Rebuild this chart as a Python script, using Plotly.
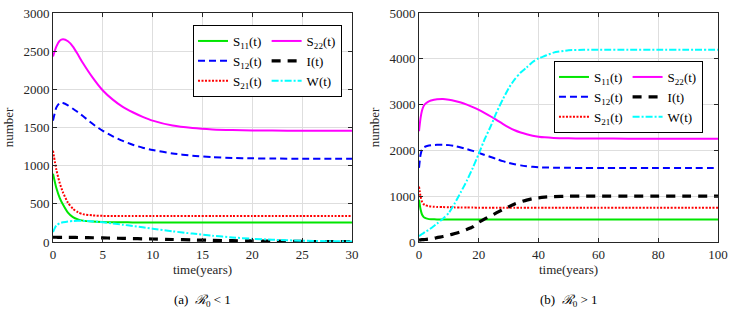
import plotly.graph_objects as go
from plotly.subplots import make_subplots

# ---------------- data: panel (a) R0 < 1 ----------------
t_a = [0, 0.33, 0.67, 1, 1.5, 2, 2.5, 3, 4, 5, 6, 7, 8, 9, 10, 12, 14, 16, 18, 20, 22, 25, 28, 30]
S11_a = [895, 710, 578, 490, 385, 325, 296, 280, 268, 262, 259, 258, 257, 257, 257, 257, 257, 257, 257, 257, 257, 257, 257, 257]
S12_a = [1590, 1760, 1822, 1820, 1790, 1745, 1700, 1650, 1545, 1455, 1385, 1325, 1275, 1235, 1205, 1160, 1130, 1112, 1102, 1096, 1093, 1091, 1090, 1090]
S21_a = [1195, 950, 775, 650, 515, 435, 390, 365, 348, 342, 340, 340, 340, 340, 340, 340, 340, 340, 340, 340, 340, 340, 340, 340]
S22_a = [2430, 2560, 2635, 2655, 2630, 2560, 2455, 2345, 2150, 1985, 1865, 1770, 1700, 1640, 1590, 1525, 1493, 1475, 1466, 1462, 1460, 1458, 1457, 1457]
I_a = [62, 62, 61, 61, 60, 60, 59, 58, 56, 54, 51, 48, 45, 42, 39, 33, 27, 22, 17, 14, 11, 7, 5, 4]
W_a = [130, 215, 245, 258, 270, 275, 277, 277, 270, 258, 243, 226, 210, 192, 174, 140, 110, 82, 60, 42, 30, 17, 10, 8]

# ---------------- data: panel (b) R0 > 1 ----------------
t_b = [0, 0.5, 1, 1.5, 2, 3, 4, 5, 6, 8, 10, 12, 14, 16, 18, 20, 22, 24, 26, 28, 30, 32, 34, 36, 38, 40, 42, 45, 50, 55, 60, 70, 80, 90, 100]
S11_b = [925, 720, 600, 550, 525, 505, 498, 495, 493, 492, 491, 490, 490, 490, 490, 490, 490, 490, 490, 490, 490, 490, 490, 490, 490, 490, 490, 490, 490, 490, 490, 490, 490, 490, 490]
S12_b = [1620, 1900, 2020, 2060, 2080, 2100, 2110, 2118, 2122, 2122, 2115, 2095, 2065, 2030, 1990, 1945, 1900, 1855, 1810, 1765, 1728, 1697, 1673, 1655, 1642, 1633, 1627, 1622, 1619, 1618, 1618, 1618, 1618, 1618, 1618]
S21_b = [1210, 1000, 880, 830, 805, 785, 775, 770, 766, 762, 758, 756, 754, 752, 751, 750, 750, 749, 749, 748, 748, 748, 748, 748, 748, 748, 748, 748, 748, 748, 748, 748, 748, 748, 748]
S22_b = [2420, 2700, 2870, 2960, 3010, 3060, 3090, 3105, 3115, 3122, 3105, 3080, 3045, 3000, 2945, 2885, 2815, 2740, 2660, 2580, 2505, 2440, 2390, 2352, 2322, 2300, 2285, 2272, 2263, 2260, 2258, 2257, 2257, 2257, 2257]
I_b = [40, 47, 50, 52, 55, 62, 70, 80, 95, 120, 150, 185, 225, 275, 330, 430, 505, 570, 640, 710, 770, 830, 875, 915, 945, 965, 980, 992, 1000, 1000, 1000, 1000, 1000, 1000, 1000]
W_b = [130, 150, 175, 195, 220, 255, 300, 350, 400, 510, 640, 850, 1090, 1340, 1620, 1930, 2250, 2530, 2840, 3110, 3360, 3550, 3700, 3810, 3930, 4010, 4060, 4135, 4185, 4197, 4200, 4200, 4200, 4200, 4200]

names = ["S<sub>11</sub>(t)", "S<sub>12</sub>(t)", "S<sub>21</sub>(t)",
         "S<sub>22</sub>(t)", "I(t)", "W(t)"]
styles = [
    dict(color="#00e600", width=2, dash="solid"),
    dict(color="#0000ff", width=2, dash="7px,4px"),
    dict(color="#ff0000", width=2, dash="2px,1.5px"),
    dict(color="#ff00ff", width=2, dash="solid"),
    dict(color="#000000", width=3.2, dash="9px,7px"),
    dict(color="#00ffff", width=2, dash="7px,2px,2px,2px"),
]
groups = ["c1", "c1", "c1", "c2", "c2", "c2"]

FONT = "Liberation Serif"
TXT = "#262626"

fig = make_subplots(rows=1, cols=2, horizontal_spacing=0.1008)

panels = [
    (1, t_a, [S11_a, S12_a, S21_a, S22_a, I_a, W_a], "legend"),
    (2, t_b, [S11_b, S12_b, S21_b, S22_b, I_b, W_b], "legend2"),
]
for col, t, series, leg in panels:
    for name, ys, st, g in zip(names, series, styles, groups):
        fig.add_trace(go.Scatter(
            x=t, y=ys, mode="lines", name=name, legend=leg,
            legendgroup=g + leg,
            line=dict(color=st["color"], width=st["width"], dash=st["dash"],
                      shape="spline", smoothing=0.6),
            hoverinfo="skip",
        ), row=1, col=col)

axis_common = dict(
    showline=True, linecolor=TXT, linewidth=1, mirror="ticks",
    ticks="inside", ticklen=4, tickcolor=TXT,
    showgrid=True, gridcolor="#dedede", gridwidth=1,
    zeroline=False, automargin=False,
    tickfont=dict(family=FONT, size=13, color=TXT),
    title_font=dict(family=FONT, size=13, color=TXT),
)

fig.update_xaxes(**axis_common)
fig.update_yaxes(**axis_common)

fig.update_xaxes(range=[0, 30], tick0=0, dtick=5, title_text="time(years)", title_standoff=2, row=1, col=1)
fig.update_xaxes(range=[0, 100], tick0=0, dtick=20, title_text="time(years)", title_standoff=2, row=1, col=2)
fig.update_yaxes(range=[0, 3000], tick0=0, dtick=500, title_text="number", title_standoff=6, row=1, col=1)
fig.update_yaxes(range=[0, 5000], tick0=0, dtick=1000, title_text="number", title_standoff=6, row=1, col=2)

legend_common = dict(
    orientation="h", traceorder="grouped",
    bgcolor="white", bordercolor="#000000", borderwidth=1,
    font=dict(family=FONT, size=13, color="#000000"),
    itemwidth=30, xanchor="right", yanchor="top",
)

fig.update_layout(
    width=733, height=315,
    margin=dict(l=53, r=15, t=13, b=73, autoexpand=False),
    plot_bgcolor="white", paper_bgcolor="white",
    font=dict(family=FONT, size=13, color=TXT),
    showlegend=True,
    legend=dict(x=0.4346, y=0.9476, **legend_common),
    legend2=dict(x=0.9774, y=0.7904, **legend_common),
    annotations=[
        dict(text="(a)  <i>ℛ</i><sub>0</sub> &lt; 1", x=0.2248, y=-0.2533,
             xref="paper", yref="paper", showarrow=False,
             xanchor="center", yanchor="middle",
             font=dict(family=FONT, size=13, color="#000000")),
        dict(text="(b)  <i>ℛ</i><sub>0</sub> &gt; 1", x=0.7752, y=-0.2533,
             xref="paper", yref="paper", showarrow=False,
             xanchor="center", yanchor="middle",
             font=dict(family=FONT, size=13, color="#000000")),
    ],
)

fig.write_html("out.html", config={"displayModeBar": False},
               post_script="document.body.style.margin='0';")
